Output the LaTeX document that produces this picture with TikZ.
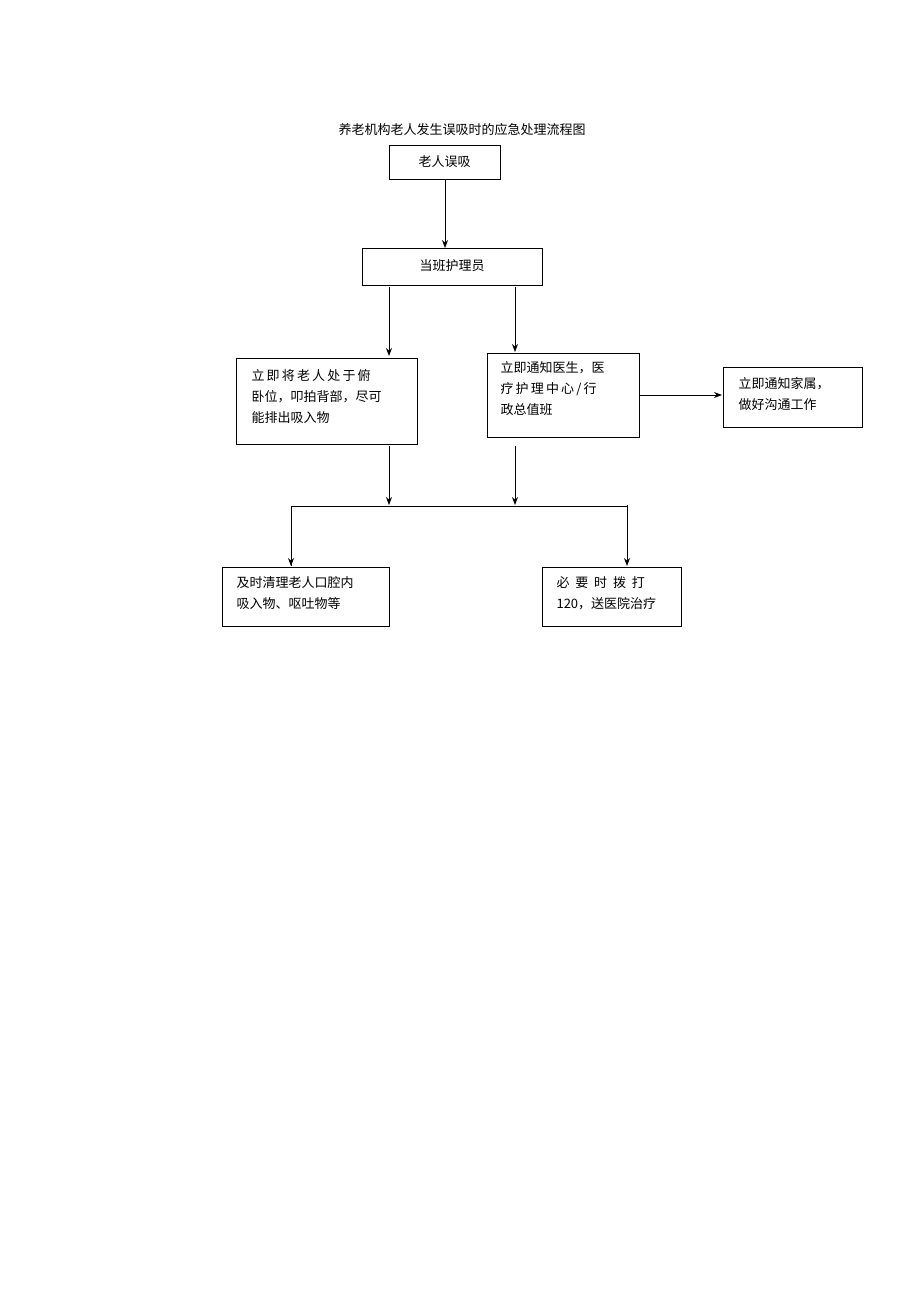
\documentclass[tikz,border=0pt]{standalone}
\usepackage{fontspec}
\setmainfont{Noto Sans CJK SC}
\usetikzlibrary{arrows.meta}
\begin{document}
\begin{tikzpicture}[x=1pt,y=-1pt,
  box/.style={draw,line width=0.8pt,inner sep=0pt},
  txt/.style={font=\fontsize{13}{21}\selectfont,align=left,anchor=north west},
  arr/.style={line width=0.8pt,-{Stealth[length=8pt,width=6pt]}}]
\useasboundingbox (0,0) rectangle (920,1301);
\node (title) at (462,130) {\fontsize{13}{15}\selectfont 养老机构老人发生误吸时的应急处理流程图};
\draw[box] (389,145) rectangle (500,179); \node (b1) at (444.5,162) {\fontsize{13}{15}\selectfont 老人误吸};
\coordinate (b1s) at (445,179);
\draw[box] (362,248) rectangle (542,285); \node (b2) at (452,266) {\fontsize{13}{15}\selectfont 当班护理员};
\coordinate (b2t) at (445,248); \coordinate (b2a) at (389,287); \coordinate (b2b) at (515,287);
\draw[box] (236,358) rectangle (417,444);
\node[txt] (b3) at (248,366) {立\,即\,将\,老\,人\,处\,于\,俯\\卧位，叩拍背部，尽可\\能排出吸入物};
\draw[box] (487,353) rectangle (639,437);
\node[txt] (b4) at (497,358) {立即通知医生，医\\疗\,护\,理\,中\,心\,/\,行\\政总值班};
\draw[box] (723,367) rectangle (862,427);
\node[txt] (b5) at (735,374) {立即通知家属，\\做好沟通工作};
\draw[box] (222,567) rectangle (389,626);
\node[txt] (b6) at (233,573) {及时清理老人口腔内\\吸入物、呕吐物等};
\draw[box] (542,567) rectangle (681,626);
\node[txt] (b7) at (553,573) {必\ \ 要\ \ 时\ \ 拨\ \ 打\\120，送医院治疗};
\draw[arr] (b1s) -- (b2t);
\draw[arr] (b2a) -- (389,356);
\draw[arr] (b2b) -- (515,352);
\draw[arr] (639,395) -- (722,395);
\draw[arr] (389,446) -- (389,505);
\draw[arr] (515,446) -- (515,505);
\draw[line width=0.8pt] (291,566) -- (291,506) -- (627,506);
\draw[arr] (291,507) -- (291,566);
\draw[arr] (627,505) -- (627,566);
\end{tikzpicture}
\end{document}
